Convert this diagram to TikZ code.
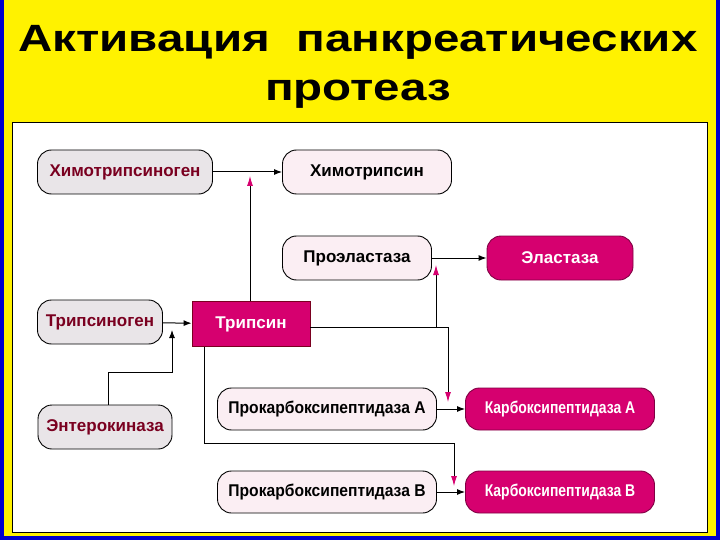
\documentclass[tikz,border=0pt]{standalone}
\usepackage{fontspec}
\setmainfont{Liberation Sans}
\usetikzlibrary{arrows.meta}
\definecolor{mag}{HTML}{D6006F}
\definecolor{pal}{HTML}{FBEEF3}
\definecolor{gry}{HTML}{E9E5E8}
\definecolor{drk}{HTML}{7A0020}
\begin{document}
\begin{tikzpicture}[x=1pt,y=-1pt,
  pill/.style={draw=black,line width=0.9pt,rounded corners=14pt,minimum height=44pt,font=\bfseries\fontsize{17}{19}\selectfont,inner sep=1pt},
  pre/.style={pill,fill=gry,text=drk},
  mid/.style={pill,fill=pal,text=black},
  act/.style={pill,fill=mag,draw=mag!60!black,text=white},
  arr/.style={-{Latex[length=8pt,width=6pt]},line width=1pt},
  marr/.style={line width=0.9pt,-{Latex[length=10pt,width=6pt,color=mag]}}]
\useasboundingbox (0,0) rectangle (720,540);
\fill[blue!80!black] (0,0) rectangle (720,540);
\fill[yellow] (4,0) rectangle (716,536);
\fill[white,draw=black,line width=1pt] (12,123) rectangle (707,532);
\node (t1) at (358,42) {\scalebox{1.25}[1]{\bfseries\fontsize{38}{42}\selectfont Активация\ \ панкреатических}};
\node (t2) at (358,94) {\scalebox{1.25}[1]{\bfseries\fontsize{38}{42}\selectfont протеаз}};
\node[pre,minimum width=175pt] (hg) at (125,172) {Химотрипсиноген};
\node[mid,minimum width=169pt] (h) at (367,172) {Химотрипсин};
\node[mid,minimum width=149pt] (pe) at (357,258) {Проэластаза};
\node[act,minimum width=146pt] (e) at (560,258) {Эластаза};
\node[pre,minimum width=125pt] (tg) at (100,322) {Трипсиноген};
\node[act,rounded corners=0pt,minimum width=118pt,minimum height=45pt,draw=drk] (t) at (251,324) {Трипсин};
\node[pre,minimum width=134pt] (en) at (105,427) {Энтерокиназа};
\node[mid,minimum width=219pt,minimum height=42pt] (pa) at (327,409) {\scalebox{0.92}[1]{Прокарбоксипептидаза А}};
\node[act,minimum width=189pt,minimum height=42pt] (ka) at (560,409) {\scalebox{0.82}[1]{Карбоксипептидаза А}};
\node[mid,minimum width=219pt,minimum height=42pt] (pb) at (327,492) {\scalebox{0.92}[1]{Прокарбоксипептидаза В}};
\node[act,minimum width=189pt,minimum height=42pt] (kb) at (560,492) {\scalebox{0.82}[1]{Карбоксипептидаза В}};
\draw[arr] (hg) -- (h);
\draw[arr] (pe) -- (e);
\draw[arr] (tg) -- (t);
\draw[arr] (pa) -- (ka);
\draw[arr] (pb) -- (kb);
\coordinate (c1) at (250,176);
\coordinate (c2) at (436,265);
\coordinate (c3) at (448,402);
\coordinate (c4) at (454,486);
\coordinate (c5) at (172,330);
\draw[marr] (t.north -| c1) -- (c1);
\draw[marr] (t.east |- 0,327) -- (448,327) -- (c3);
\draw[marr] (436,327) -- (c2);
\draw[marr] (204,347) -- (204,443) -- (454,443) -- (c4);
\draw[arr] (en.north -| 108,0) -- (108,372) -- (172,372) -- (c5);
\end{tikzpicture}
\end{document}
